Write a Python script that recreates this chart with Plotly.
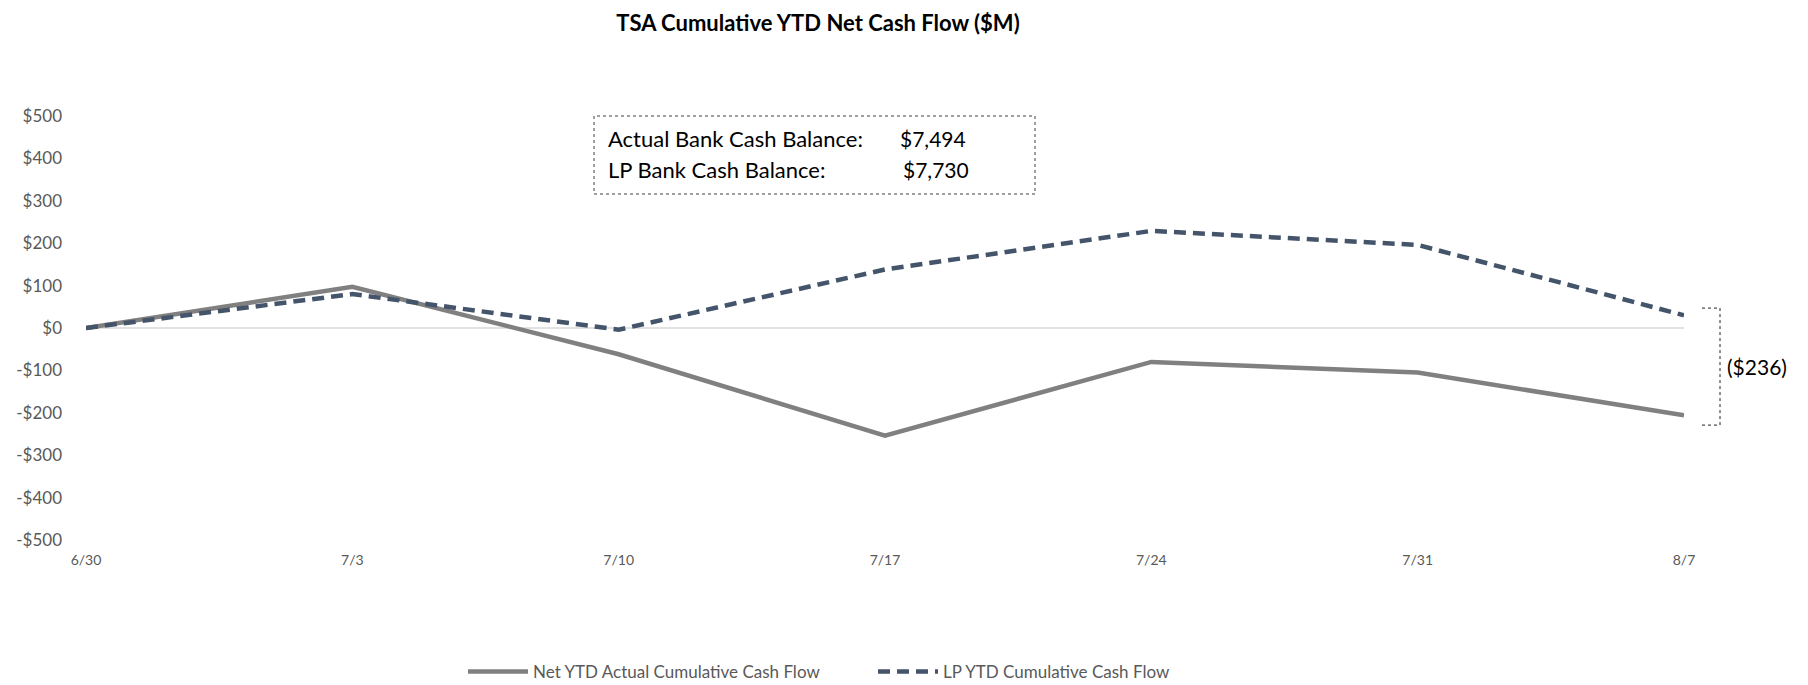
import plotly.graph_objects as go

weeks = ["6/30", "7/3", "7/10", "7/17", "7/24", "7/31", "8/7"]
net_actual = [0, 97, -62, -254, -80, -105, -206]
lp_forecast = [0, 80, -4, 138, 229, 196, 30]
y_ticks = [500, 400, 300, 200, 100, 0, -100, -200, -300, -400, -500]
y_tick_text = [f"${v}" if v >= 0 else f"-${-v}" for v in y_ticks]

actual_balance = "$7,494"
lp_balance = "$7,730"
gap_label = "($" + str(lp_forecast[-1] - net_actual[-1]) + ")"

font_family = "Lato, Open Sans, sans-serif"
axis_gray = "#595959"

# plot area in pixels (used to place the box, bracket and legend)
L, R, T, B = 78, 132, 108, 153
W, H = 1808, 685
pw, ph = W - L - R, H - T - B


def px(x):
    return (x - L) / pw


def py(y):
    return (H - B - y) / ph


fig = go.Figure()
fig.add_trace(go.Scatter(
    x=weeks, y=net_actual, name="Net YTD Actual Cumulative Cash Flow",
    mode="lines", line=dict(color="#808080", width=4.5),
))
fig.add_trace(go.Scatter(
    x=weeks, y=lp_forecast, name="LP YTD Cumulative Cash Flow",
    mode="lines", line=dict(color="#44546A", width=4.5, dash="12px,7px"),
))

# zero line
fig.add_shape(type="line", xref="paper", yref="y", x0=0, x1=1, y0=0, y1=0,
              line=dict(color="#D9D9D9", width=1.5), layer="below")

# balance box
fig.add_shape(type="rect", xref="paper", yref="paper",
              x0=px(586), x1=px(1027), y0=py(186), y1=py(108),
              line=dict(color="#404040", width=1, dash="dot"), fillcolor="white")
for label, val, yy, vx in [("Actual Bank Cash Balance:", actual_balance, 130, 890),
                           ("LP Bank Cash Balance:", lp_balance, 161, 893)]:
    fig.add_annotation(x=px(598), y=py(yy), xref="paper", yref="paper",
                       text=label, showarrow=False, xanchor="left", yanchor="middle",
                       font=dict(size=22, color="black", family=font_family))
    fig.add_annotation(x=px(vx), y=py(yy), xref="paper", yref="paper",
                       text=val, showarrow=False, xanchor="left", yanchor="middle",
                       font=dict(size=21, color="black", family=font_family))

# bracket showing the gap
bx0 = px(1694)
bx1 = px(1712)
b_top = lp_forecast[-1] + 17
b_bot = net_actual[-1] - 23
bracket = dict(color="#202020", width=1, dash="dot")
fig.add_shape(type="line", xref="paper", yref="y", x0=bx0, x1=bx1, y0=b_top, y1=b_top, line=bracket)
fig.add_shape(type="line", xref="paper", yref="y", x0=bx1, x1=bx1, y0=b_top, y1=b_bot, line=bracket)
fig.add_shape(type="line", xref="paper", yref="y", x0=bx0, x1=bx1, y0=b_bot, y1=b_bot, line=bracket)
fig.add_annotation(x=px(1749), y=(b_top + b_bot) / 2, xref="paper", yref="y",
                   text=gap_label, showarrow=False, xanchor="center", yanchor="middle",
                   font=dict(size=21, color="black", family=font_family))

fig.update_layout(
    width=W, height=H,
    margin=dict(l=L, r=R, t=T, b=B, autoexpand=False),
    paper_bgcolor="white", plot_bgcolor="white",
    title=dict(text="<b>TSA Cumulative YTD Net Cash Flow ($M)</b>",
               x=810 / W, xref="container", xanchor="center",
               y=1 - 15 / H, yref="container", yanchor="middle",
               font=dict(size=22, color="black", family=font_family)),
    font=dict(family=font_family, color=axis_gray),
    xaxis=dict(type="category", range=[0, 6], showgrid=False, zeroline=False,
               showline=False, ticks="", tickfont=dict(size=14, color=axis_gray),
               ticklabelstandoff=10, automargin=False),
    yaxis=dict(range=[-500, 500], tickvals=y_ticks, ticktext=y_tick_text,
               showgrid=False, zeroline=False, showline=False, ticks="",
               tickfont=dict(size=17, color=axis_gray), ticklabelstandoff=23,
               automargin=False),
    legend=dict(orientation="h", x=px(455), xanchor="left",
                y=py(664), yanchor="middle",
                font=dict(size=17, color=axis_gray), itemwidth=60,
                entrywidthmode="pixels", entrywidth=335),
    showlegend=True,
)

fig.write_html("out.html")
